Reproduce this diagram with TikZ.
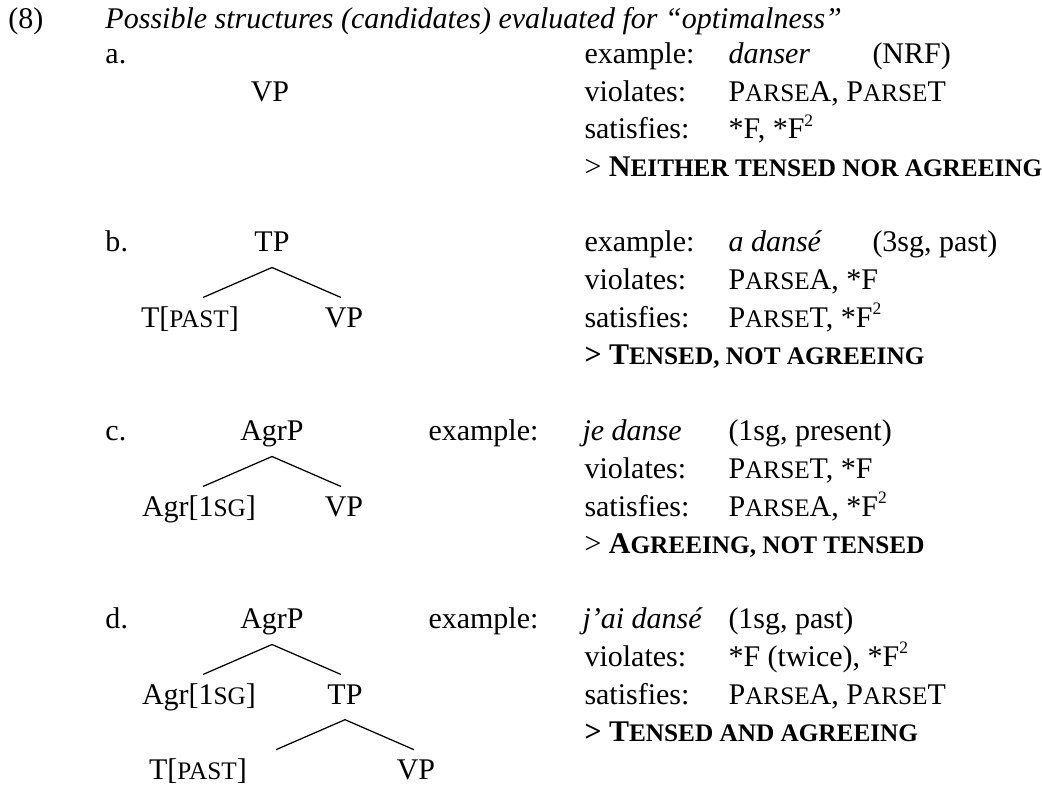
\documentclass[tikz,border=0pt]{standalone}
\usepackage{fontspec}
\setmainfont{Liberation Serif}
\usetikzlibrary{calc}
\newcommand{\smcap}[1]{{\fontsize{10.1pt}{12pt}\selectfont #1}}
\newcommand{\sqr}{\raisebox{0.42em}{\fontsize{7pt}{7pt}\selectfont 2}}
\tikzset{
txt/.style = {anchor=base west, inner sep=0pt},
cat/.style = {anchor=base, inner sep=0pt, text height=12pt, text depth=6pt},
leg/.style = {line width=0.5pt}
}

\begin{document}
\begin{tikzpicture}[x=0.4pt, y=-0.4pt, font=\fontsize{12pt}{14pt}\selectfont]
  \useasboundingbox (0,0) rectangle (1042,785);
  \node[txt] (num) at (8,29) {(8)};
  \node[txt] (title) at (105,29) {\textit{Possible structures (candidates) evaluated for “optimalness”}};

  % a.
  \node[txt] (aLab) at (105,64) {a.};
  \node[cat] (aVP) at (270,101.5) {VP};
  \node[txt] (aEx) at (584,64) {example:};
  \node[txt] (aForm) at (728,64) {\textit{danser}};
  \node[txt] (aGloss) at (872,64) {(NRF)};
  \node[txt] (aViol) at (584,101.5) {violates:};
  \node[txt] (aViolC) at (728,101.5) {P\smcap{ARSE}A, P\smcap{ARSE}T};
  \node[txt] (aSat) at (584,139) {satisfies:};
  \node[txt] (aSatC) at (728,139) {*F, *F\sqr};
  \node[txt] (aRes) at (584,176.5) {> \textbf{N\smcap{EITHER TENSED NOR AGREEING}}};

  % b.
  \node[txt] (bLab) at (105,252) {b.};
  \node[cat] (bTP) at (272,252) {TP};
  \node[cat] (bT) at (190,327.2) {T[\smcap{PAST}]};
  \node[cat] (bVP) at (344,327.2) {VP};
  \coordinate (bL) at ($(bTP.south)+(-69,30)$);
  \coordinate (bR) at ($(bTP.south)+(69,30)$);
  \draw[leg] (bL) -- (bTP.south) -- (bR);
  \node[txt] (bEx) at (584,252) {example:};
  \node[txt] (bForm) at (728,252) {\textit{a dansé}};
  \node[txt] (bGloss) at (872,252) {(3sg, past)};
  \node[txt] (bViol) at (584,289.6) {violates:};
  \node[txt] (bViolC) at (728,289.6) {P\smcap{ARSE}A, *F};
  \node[txt] (bSat) at (584,327.2) {satisfies:};
  \node[txt] (bSatC) at (728,327.2) {P\smcap{ARSE}T, *F\sqr};
  \node[txt] (bRes) at (584,364.8) {\textbf{> T\smcap{ENSED, NOT AGREEING}}};

  % c.
  \node[txt] (cLab) at (105,441) {c.};
  \node[cat] (cAgrP) at (272,441) {AgrP};
  \node[cat] (cAgr) at (199,516.2) {Agr[1\smcap{SG}]};
  \node[cat] (cVP) at (344,516.2) {VP};
  \coordinate (cL) at ($(cAgrP.south)+(-69,30)$);
  \coordinate (cR) at ($(cAgrP.south)+(69,30)$);
  \draw[leg] (cL) -- (cAgrP.south) -- (cR);
  \node[txt] (cEx) at (428,441) {example:};
  \node[txt] (cForm) at (582,441) {\textit{je danse}};
  \node[txt] (cGloss) at (728,441) {(1sg, present)};
  \node[txt] (cViol) at (584,478.6) {violates:};
  \node[txt] (cViolC) at (728,478.6) {P\smcap{ARSE}T, *F};
  \node[txt] (cSat) at (584,516.2) {satisfies:};
  \node[txt] (cSatC) at (728,516.2) {P\smcap{ARSE}A, *F\sqr};
  \node[txt] (cRes) at (584,553.8) {> \textbf{A\smcap{GREEING, NOT TENSED}}};

  % d.
  \node[txt] (dLab) at (105,629) {d.};
  \node[cat] (dAgrP) at (272,629) {AgrP};
  \node[cat] (dAgr) at (199,704.2) {Agr[1\smcap{SG}]};
  \node[cat] (dTP) at (345,704.2) {TP};
  \node[cat] (dT) at (198,779.4) {T[\smcap{PAST}]};
  \node[cat] (dVP) at (416,779.4) {VP};
  \coordinate (dL) at ($(dAgrP.south)+(-69,30)$);
  \coordinate (dR) at ($(dAgrP.south)+(69,30)$);
  \draw[leg] (dL) -- (dAgrP.south) -- (dR);
  \coordinate (dTL) at ($(dTP.south)+(-69,30)$);
  \coordinate (dTR) at ($(dTP.south)+(69,30)$);
  \draw[leg] (dTL) -- (dTP.south) -- (dTR);
  \node[txt] (dEx) at (428,629) {example:};
  \node[txt] (dForm) at (582,629) {\textit{j’ai dansé}};
  \node[txt] (dGloss) at (728,629) {(1sg, past)};
  \node[txt] (dViol) at (584,666.6) {violates:};
  \node[txt] (dViolC) at (728,666.6) {*F (twice), *F\sqr};
  \node[txt] (dSat) at (584,704.2) {satisfies:};
  \node[txt] (dSatC) at (728,704.2) {P\smcap{ARSE}A, P\smcap{ARSE}T};
  \node[txt] (dRes) at (584,741.8) {\textbf{> T\smcap{ENSED AND AGREEING}}};
\end{tikzpicture}
\end{document}
